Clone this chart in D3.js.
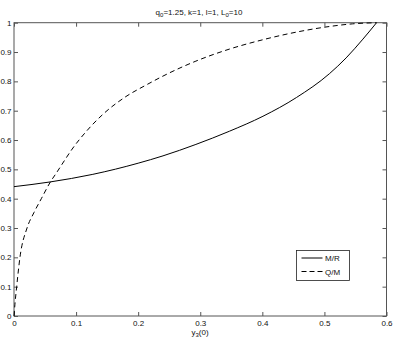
<!DOCTYPE html>
<html>
<head>
<meta charset="utf-8">
<script src="https://cdn.jsdelivr.net/npm/d3@7"></script>
<style>
  body { margin: 0; background: #fff; }
  text { font-family: "Liberation Sans", Arial, sans-serif; }
</style>
</head>
<body>
<svg id="plot" width="395" height="343"></svg>
<script>
// data
let mr_x = [0, 0.058, 0.127, 0.2, 0.24, 0.293, 0.347, 0.401, 0.455, 0.508, 0.535, 0.562, 0.584]
let mr_y = [0.441, 0.457, 0.483, 0.521, 0.546, 0.585, 0.630, 0.681, 0.745, 0.826, 0.880, 0.944, 1.0]

let qm_x = [0, 0.0015, 0.0043, 0.0096, 0.021, 0.032, 0.044, 0.0586, 0.069, 0.0828, 0.0926, 0.1167, 0.1434, 0.178, 0.215, 0.24, 0.293, 0.347, 0.401, 0.455, 0.508, 0.545, 0.584]
let qm_y = [0, 0.04, 0.1, 0.2, 0.3, 0.352, 0.4, 0.457, 0.49, 0.535, 0.566, 0.630, 0.688, 0.745, 0.790, 0.818, 0.869, 0.910, 0.942, 0.968, 0.987, 0.996, 1.0]

let x_ticks = [0, 0.1, 0.2, 0.3, 0.4, 0.5, 0.6]
let y_ticks = [0, 0.1, 0.2, 0.3, 0.4, 0.5, 0.6, 0.7, 0.8, 0.9, 1]
let legend_labels = ["M/R", "Q/M"]

let svg = d3.select("#plot")

let margin_left = 14, margin_top = 22.7;
let plot_width = 372.5, plot_height = 293.3;

let x_scale = d3.scaleLinear([0, 0.6], [margin_left, margin_left + plot_width])
let y_scale = d3.scaleLinear([0, 1], [margin_top + plot_height, margin_top])

let fmt = d3.format("~g")

// box
svg.append("rect")
  .attr("x", margin_left).attr("y", margin_top)
  .attr("width", plot_width).attr("height", plot_height)
  .attr("fill", "none").attr("stroke", "#555").attr("stroke-width", 1)

// axes, ticks pointing inward on all four sides
let xAxis = d3.axisBottom(x_scale).tickValues(x_ticks).tickSizeInner(-4).tickSizeOuter(0).tickPadding(4.5).tickFormat(fmt)
let yAxis = d3.axisLeft(y_scale).tickValues(y_ticks).tickSizeInner(-4).tickSizeOuter(0).tickPadding(2.5).tickFormat(fmt)

let gx = svg.append("g").attr("transform", `translate(0,${margin_top + plot_height})`).call(xAxis)
let gy = svg.append("g").attr("transform", `translate(${margin_left},0)`).call(yAxis)
let gxt = svg.append("g").attr("transform", `translate(0,${margin_top})`)
  .call(d3.axisTop(x_scale).tickValues(x_ticks).tickSizeInner(-4).tickSizeOuter(0).tickFormat(""))
let gyr = svg.append("g").attr("transform", `translate(${margin_left + plot_width},0)`)
  .call(d3.axisRight(y_scale).tickValues(y_ticks).tickSizeInner(-4).tickSizeOuter(0).tickFormat(""))

svg.selectAll(".domain").remove()
svg.selectAll(".tick line").attr("stroke", "#555")
svg.selectAll(".tick text").attr("font-size", 8).attr("fill", "#111")
  .style("font-family", "Liberation Sans, Arial, sans-serif")

// curves
let line = d3.line().x(d => x_scale(d[0])).y(d => y_scale(d[1])).curve(d3.curveMonotoneX)

svg.append("path")
  .datum(d3.zip(mr_x, mr_y))
  .attr("d", line)
  .attr("fill", "none").attr("stroke", "#000").attr("stroke-width", 1)

svg.append("path")
  .datum(d3.zip(qm_x, qm_y))
  .attr("d", line)
  .attr("fill", "none").attr("stroke", "#000").attr("stroke-width", 1)
  .attr("stroke-dasharray", "5,3.5")

// title
let title = svg.append("text")
  .attr("x", 199).attr("y", 15)
  .attr("text-anchor", "middle").attr("font-size", 8).attr("fill", "#111")
title.append("tspan").text("q")
title.append("tspan").attr("baseline-shift", "-25%").attr("font-size", 6).text("0")
title.append("tspan").text("=1.25, k=1, l=1, L")
title.append("tspan").attr("baseline-shift", "-25%").attr("font-size", 6).text("0")
title.append("tspan").text("=10")

// x label
let x_lab = svg.append("text")
  .attr("x", 200).attr("y", 335)
  .attr("text-anchor", "middle").attr("font-size", 8).attr("fill", "#111")
x_lab.append("tspan").text("y")
x_lab.append("tspan").attr("baseline-shift", "-25%").attr("font-size", 6).text("3")
x_lab.append("tspan").text("(0)")

// legend
let leg = svg.append("g")
leg.append("rect")
  .attr("x", 296.5).attr("y", 250.5).attr("width", 53).attr("height", 30)
  .attr("fill", "#fff").attr("stroke", "#222").attr("stroke-width", 0.8)

let leg_items = leg.selectAll("g.item")
  .data(legend_labels)
  .join("g")
  .attr("transform", (d, i) => `translate(0,${258 + i * 13.5})`)

leg_items.append("line")
  .attr("x1", 301.5).attr("x2", 322.5).attr("y1", 0).attr("y2", 0)
  .attr("stroke", "#000").attr("stroke-width", 1)
  .attr("stroke-dasharray", (d, i) => i == 1 ? "5,3" : null)

leg_items.append("text")
  .attr("x", 325).attr("y", 3)
  .attr("font-size", 8).attr("fill", "#111")
  .text(d => d)
</script>
</body>
</html>
